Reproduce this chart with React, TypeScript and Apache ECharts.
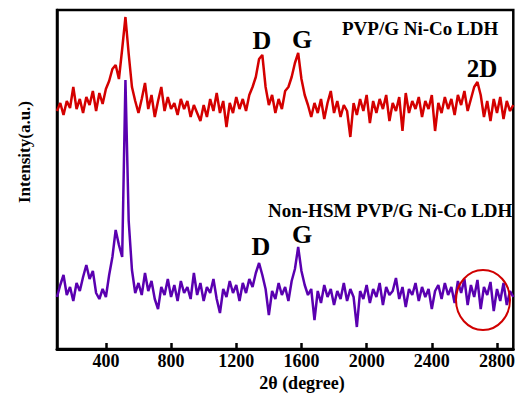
import React, { useEffect, useRef } from "react";
import * as echarts from "echarts";

// Raman shift (cm^-1) sampling points
const ramanShift = [
  100, 120, 140, 160, 180, 200, 220, 240, 260, 280, 300, 320, 340, 360, 380, 400, 420, 440, 460, 480,
  500, 520, 540, 560, 580, 600, 620, 640, 660, 680, 700, 720, 740, 760, 780, 800, 820, 840, 860, 880,
  900, 920, 940, 960, 980, 1000, 1020, 1040, 1060, 1080, 1100, 1120, 1140, 1160, 1180, 1200, 1220, 1240, 1260, 1280,
  1300, 1320, 1340, 1360, 1380, 1400, 1420, 1440, 1460, 1480, 1500, 1520, 1540, 1560, 1580, 1600, 1620, 1640, 1660, 1680,
  1700, 1720, 1740, 1760, 1780, 1800, 1820, 1840, 1860, 1880, 1900, 1920, 1940, 1960, 1980, 2000, 2020, 2040, 2060, 2080,
  2100, 2120, 2140, 2160, 2180, 2200, 2220, 2240, 2260, 2280, 2300, 2320, 2340, 2360, 2380, 2400, 2420, 2440, 2460, 2480,
  2500, 2520, 2540, 2560, 2580, 2600, 2620, 2640, 2660, 2680, 2700, 2720, 2740, 2760, 2780, 2800, 2820, 2840, 2860, 2880,
  2900,
];

// PVP/G Ni-Co LDH (upper, red)
const pvpIntensity = [
  238, 246, 234, 248, 241, 262, 240, 250, 236, 252, 244, 258, 238, 256, 245, 260, 268, 280, 284, 270,
  300, 332, 295, 262, 248, 236, 250, 266, 240, 254, 232, 248, 262, 238, 252, 240, 246, 234, 250, 240,
  248, 232, 244, 236, 228, 244, 232, 250, 238, 256, 236, 248, 222, 246, 236, 252, 240, 250, 238, 254,
  262, 272, 290, 294, 262, 244, 254, 236, 250, 240, 258, 262, 272, 286, 296, 270, 254, 244, 232, 246,
  236, 250, 230, 246, 258, 236, 248, 232, 244, 238, 212, 246, 234, 250, 238, 254, 226, 248, 236, 250,
  240, 254, 228, 246, 238, 252, 218, 256, 236, 248, 240, 252, 232, 248, 240, 254, 218, 246, 236, 252,
  240, 250, 234, 254, 244, 258, 238, 250, 262, 267, 254, 232, 248, 228, 250, 236, 252, 230, 248, 238,
  244,
];

// Non-HSM PVP/G Ni-Co LDH (lower, purple)
const nonHsmIntensity = [
  52, 64, 74, 54, 62, 48, 66, 58, 72, 84, 70, 78, 56, 50, 60, 52, 74, 92, 119, 104,
  92, 269, 128, 79, 56, 66, 54, 76, 58, 68, 50, 40, 62, 54, 70, 52, 64, 48, 68, 56,
  62, 50, 76, 54, 66, 48, 62, 56, 70, 50, 36, 60, 52, 68, 56, 64, 48, 66, 56, 70,
  62, 76, 86, 74, 60, 34, 58, 50, 66, 54, 62, 48, 68, 80, 102, 78, 64, 54, 60, 29,
  58, 46, 64, 52, 60, 44, 58, 50, 66, 48, 60, 52, 22, 58, 50, 64, 46, 60, 52, 66,
  44, 62, 54, 58, 71, 50, 62, 42, 60, 54, 66, 48, 62, 52, 60, 40, 58, 64, 50, 66,
  54, 62, 46, 68, 56, 70, 44, 64, 52, 69, 40, 62, 54, 67, 38, 60, 48, 66, 44, 58,
  52,
];

const xTicks = [400, 800, 1200, 1600, 2000, 2400, 2800];

const FONT = "'Liberation Serif', 'Times New Roman', serif";
const RED = "#d40000";
const PURPLE = "#5a00b0";

export default function App() {
  const ref = useRef<HTMLDivElement>(null);

  useEffect(() => {
    if (!ref.current) return;
    const chart = echarts.init(ref.current, null, { renderer: "svg" });
    const pair = (ys: number[]) => ramanShift.map((x, i) => [x, ys[i]]);
    const txt = (text: string, x: number, y: number, size: number, align = "center") => ({
      type: "text",
      x,
      y,
      z: 100,
      style: {
        text,
        fontFamily: FONT,
        fontWeight: "bold",
        fontSize: size,
        fill: "#000",
        textAlign: align,
        textVerticalAlign: "middle",
      },
    });
    chart.setOption({
      animation: false,
      grid: {
        left: 57,
        right: 3,
        top: 10,
        bottom: 47,
        show: true,
        borderColor: "#000",
        borderWidth: 2.5,
      },
      xAxis: {
        type: "value",
        min: 100,
        max: 2900,
        axisLine: { show: true, lineStyle: { color: "#000", width: 3 } },
        axisTick: {
          show: true,
          inside: true,
          length: 6,
          lineStyle: { color: "#000", width: 2.5 },
          customValues: xTicks,
        },
        axisLabel: {
          customValues: xTicks,
          formatter: (v: number) => String(v),
          color: "#000",
          fontFamily: FONT,
          fontWeight: "bold",
          fontSize: 18,
          margin: 3,
        },
        splitLine: { show: false },
      },
      yAxis: {
        type: "value",
        min: 0,
        max: 339,
        axisLine: { show: true, lineStyle: { color: "#000", width: 2.5 } },
        axisTick: { show: false },
        axisLabel: { show: false },
        splitLine: { show: false },
      },
      series: [
        {
          name: "PVP/G Ni-Co LDH",
          type: "line",
          data: pair(pvpIntensity),
          showSymbol: false,
          lineStyle: { color: RED, width: 2.5 },
          z: 2,
        },
        {
          name: "Non-HSM PVP/G Ni-Co LDH",
          type: "line",
          data: pair(nonHsmIntensity),
          showSymbol: false,
          lineStyle: { color: PURPLE, width: 2.5 },
          z: 3,
        },
      ],
      graphic: [
        txt("PVP/G Ni-Co LDH", 342, 28, 19, "left"),
        txt("Non-HSM PVP/G Ni-Co LDH", 268, 210, 19, "left"),
        txt("D", 262, 40, 26),
        txt("G", 302, 39, 26),
        txt("2D", 482, 68, 25),
        txt("D", 261, 246, 26),
        txt("G", 302, 234, 26),
        txt("2θ (degree)", 302, 383, 18),
        {
          type: "text",
          x: 24,
          y: 152,
          rotation: Math.PI / 2,
          style: {
            text: "Intensity(a.u.)",
            fontFamily: FONT,
            fontWeight: "bold",
            fontSize: 17,
            fill: "#000",
            textAlign: "center",
            textVerticalAlign: "middle",
          },
        },
        {
          type: "ellipse",
          z: 100,
          shape: { cx: 483, cy: 300, rx: 27, ry: 30 },
          style: { fill: "none", stroke: "#d00000", lineWidth: 2 },
        },
      ],
    });
    return () => chart.dispose();
  }, []);

  return (
    <div
      ref={ref}
      style={{ position: "absolute", left: 0, top: 0, width: 518, height: 396 }}
    />
  );
}
